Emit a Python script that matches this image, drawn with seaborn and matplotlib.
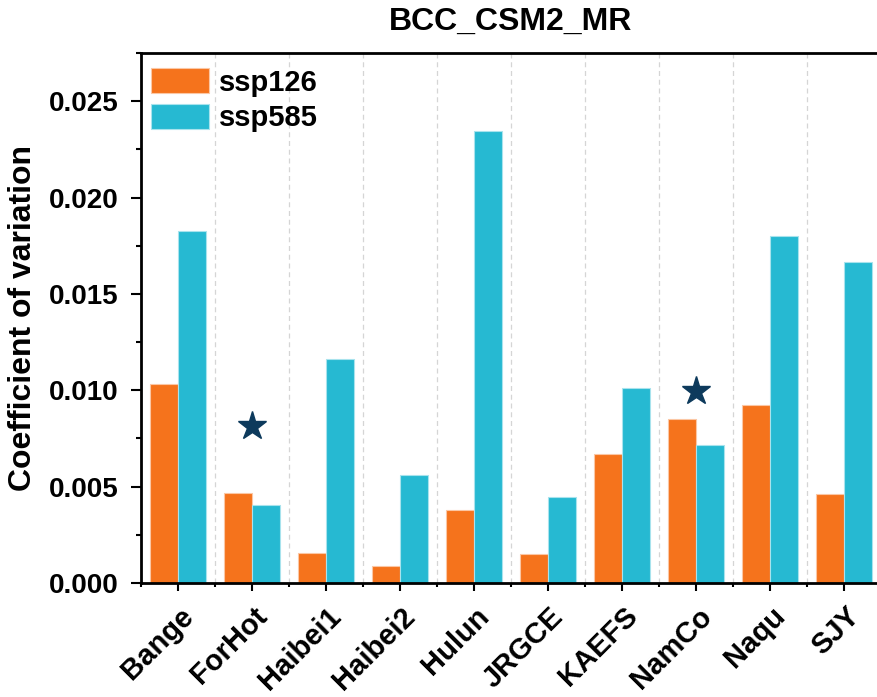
import matplotlib
matplotlib.use("Agg")
import matplotlib.pyplot as plt
import matplotlib.transforms as mtransforms
import seaborn as sns
import pandas as pd
import numpy as np
from matplotlib.ticker import MultipleLocator, FixedLocator

sites = ["Bange", "ForHot", "Haibei1", "Haibei2", "Hulun", "JRGCE", "KAEFS", "NamCo", "Naqu", "SJY"]
ssp126 = [0.0103, 0.00465, 0.00154, 0.00088, 0.00379, 0.00152, 0.00669, 0.0085, 0.00922, 0.0046]
ssp585 = [0.01826, 0.00405, 0.01162, 0.00562, 0.02344, 0.00444, 0.0101, 0.00714, 0.0180, 0.01665]
scenarios = ["ssp126", "ssp585"]
star_sites = ["ForHot", "NamCo"]
star_values = [0.00816, 0.00997]
title = "BCC_CSM2_MR"
ylabel = "Coefficient of variation"

df = pd.DataFrame({
    "site": sites * 2,
    "scenario": ["ssp126"] * len(sites) + ["ssp585"] * len(sites),
    "cv": ssp126 + ssp585,
})

sns.set_theme(style="white")
plt.rcParams["font.family"] = ["Liberation Sans", "DejaVu Sans"]
plt.rcParams["font.weight"] = "bold"
for k in ["text.color", "axes.labelcolor", "xtick.color", "ytick.color"]:
    plt.rcParams[k] = "black"

fig = plt.figure(figsize=(8.77, 6.97), dpi=100)
ax = fig.add_axes([141 / 877, 1 - 583 / 697, 740 / 877, (583 - 53) / 697])

palette = {"ssp126": "#F5731C", "ssp585": "#26B9D2"}
sns.barplot(data=df, x="site", y="cv", hue="scenario", order=sites, hue_order=scenarios,
            palette=palette, saturation=1, width=0.77, linewidth=0.8,
            ax=ax, errorbar=None)
for bar in ax.patches:
    r, g, b, a = bar.get_facecolor()
    bar.set_edgecolor((r + (1 - r) * 0.6, g + (1 - g) * 0.6, b + (1 - b) * 0.6, 1))

# significance stars
star_x = [sites.index(s) for s in star_sites]
ax.plot(star_x, star_values, linestyle="none", marker="*", markersize=21, color="#0D3A5C", zorder=5)

ax.set_xlim(-0.5, len(sites) - 0.5)
ax.set_ylim(0, 0.0275)
ax.yaxis.set_minor_locator(MultipleLocator(0.0025))
ax.xaxis.set_minor_locator(FixedLocator(np.arange(-0.5, len(sites), 1.0)))
yt = np.arange(0, 0.0251, 0.005)
ax.set_yticks(yt)
ax.set_yticklabels([f"{v:.3f}" for v in yt], fontsize=20, fontweight="bold")
ax.set_xticks(range(len(sites)))
ax.set_xticklabels([""] * len(sites))

# rotated category labels, shifted like the reference
offset = mtransforms.ScaledTranslation(0.21, -0.19, fig.dpi_scale_trans)
trans = ax.get_xaxis_transform() + offset
for i, name in enumerate(sites):
    ax.text(i, 0, name, transform=trans, rotation=45, ha="right", va="top",
            fontsize=21, fontweight="bold", clip_on=False)

ax.grid(False)
ax.grid(which="minor", axis="x", linestyle=(0, (4, 3)), color="#D5D5D5", linewidth=0.9)
ax.set_axisbelow(True)

ax.tick_params(axis="y", which="major", direction="out", length=7, width=1.5, pad=9, left=True)
ax.tick_params(axis="y", which="minor", direction="out", length=3.5, width=1.5, left=True)
ax.tick_params(axis="x", which="major", direction="out", length=6, width=1.5, bottom=True)
ax.tick_params(axis="x", which="minor", direction="out", length=3, width=1.5, bottom=True)
for side in ["left", "bottom", "top"]:
    ax.spines[side].set_color("black")
    ax.spines[side].set_linewidth(2)
ax.spines["right"].set_visible(False)

ax.set_xlabel("")
ax.set_ylabel(ylabel, fontsize=23, fontweight="bold", labelpad=8)
ax.set_title(title, fontsize=23, fontweight="bold", pad=17)

handles, labels = ax.get_legend_handles_labels()
ax.legend(handles, labels, loc="upper left", bbox_to_anchor=(-0.007, 1.0), frameon=False,
          handlelength=2.0, handleheight=0.94, handletextpad=0.33, labelspacing=0.25,
          borderpad=0.2, borderaxespad=0.32, prop={"weight": "bold", "size": 21})

fig.savefig("out.png", dpi=100)
